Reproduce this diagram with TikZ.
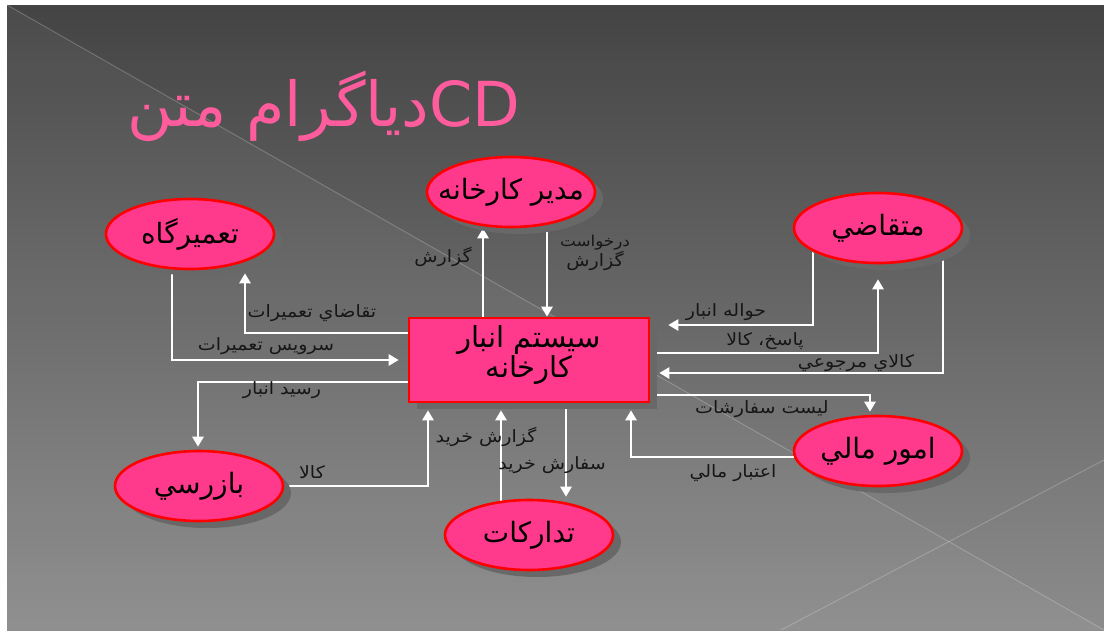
\documentclass[tikz,border=0pt]{standalone}
\usepackage{fontspec}
\newfontfamily\arabicfont[Script=Arabic]{DejaVu Sans}
\newfontfamily\labelfont[Script=Arabic,FakeStretch=1.12]{DejaVu Sans}
\TeXXeTstate=1
\usetikzlibrary{shapes.geometric,shadows,arrows.meta}
\newcommand{\artxt}[1]{{\arabicfont\beginR #1\endR}}
\newcommand{\flowtxt}[1]{{\labelfont\beginR #1\endR}}
% entity names: zero-width box so the ellipse keeps its fixed size
\newcommand{\enttext}[1]{\makebox[0pt]{\raisebox{5pt}{\artxt{#1}}}}
\pgfdeclarelayer{back}
\pgfdeclarelayer{edges}
\pgfsetlayers{back,edges,main}
\definecolor{entpink}{RGB}{255,58,140}
\definecolor{titlepink}{RGB}{255,92,158}
\definecolor{shadowgray}{RGB}{104,104,104}
\definecolor{labelink}{RGB}{22,22,22}
\definecolor{slidetop}{RGB}{68,68,68}
\definecolor{slidebottom}{RGB}{140,140,140}
\tikzset{
  ent/.style={ellipse, draw=red, line width=2.6pt, fill=entpink,
    minimum width=168pt, minimum height=70pt, inner sep=0pt,
    font=\fontsize{28}{32}\selectfont, text=black,
    drop shadow={shadow xshift=8pt, shadow yshift=-7pt, fill=shadowgray, opacity=1}},
  sysbox/.style={rectangle, draw=red, line width=2.6pt, fill=entpink,
    minimum width=240pt, minimum height=84pt, inner sep=0pt,
    drop shadow={shadow xshift=8pt, shadow yshift=-7pt, fill=shadowgray, opacity=1}},
  boxtext/.style={align=center, font=\fontsize{29}{26}\selectfont, text=black},
  flow/.style={draw=white, line width=2.8pt, -{Triangle[length=10pt,width=11pt]}},
  lbl/.style={font=\fontsize{17}{20}\selectfont, text=labelink, inner sep=0pt, align=center},
  facet/.style={white, opacity=0.22, line width=0.9pt}
}
\begin{document}
\begin{tikzpicture}[x=1pt, y=-1pt]
\useasboundingbox (0,0) rectangle (1104,630);

% slide background
\begin{pgfonlayer}{back}
  \fill[white] (0,0) rectangle (1104,630);
  \shade[top color=slidetop, bottom color=slidebottom] (7,5) rectangle (1104,630);
  \fill[white, opacity=0.04] (7,5) -- (1104,630) -- (7,630) -- cycle;
  \draw[facet] (7,5) -- (1104,630);
  \draw[facet] (1104,460) -- (781,630);
\end{pgfonlayer}

% title
\node[text=titlepink, font=\fontsize{62}{70}\selectfont] (title) at (324,106)
  {{\arabicfont\beginR\beginL CD\endL دياگرام متن\endR}};

% entities
\node[sysbox] (box) at (529,360) {};
\node[boxtext] (boxlbl) at (529,355) {\artxt{سيستم انبار}\\\artxt{كارخانه}};
\node[ent] (mgr)  at (511,192) {\enttext{مدير كارخانه}};
\node[ent] (rep)  at (190,234) {\enttext{تعميرگاه}};
\node[ent] (cust) at (878,228) {\enttext{متقاضي}};
\node[ent] (insp) at (199,486) {\enttext{بازرسي}};
\node[ent] (proc) at (529,535) {\enttext{تداركات}};
\node[ent] (fin)  at (878,451) {\enttext{امور مالي}};

% data flows
\begin{pgfonlayer}{edges}
  \draw[flow] ([xshift=-46pt]box.center) -- ([xshift=-28pt]mgr.south);
  \draw[flow] ([xshift=36pt]mgr.center) -- ([xshift=18pt]box.north);
  \draw[flow] ([yshift=27pt]box.center) -| ([xshift=55pt,yshift=-3pt]rep.south);
  \draw[flow] ([xshift=-18pt]rep.center) |- ([xshift=-9pt]box.west);
  \draw[flow] ([yshift=-22pt]box.center) -| ([xshift=-1pt,yshift=3pt]insp.north);
  \draw[flow] (insp.center) -| ([xshift=-101pt,yshift=-7pt]box.south);
  \draw[flow] ([xshift=-28pt]proc.center) -- ([xshift=-28pt,yshift=-7pt]box.south);
  \draw[flow] ([xshift=37pt]box.center) -- ([xshift=37pt,yshift=2pt]proc.north);
  \draw[flow] ([yshift=-35pt]box.center) -| ([xshift=-8pt,yshift=3pt]fin.north);
  \draw[flow] ([yshift=-6pt]fin.center) -| ([xshift=102pt,yshift=-7pt]box.south);
  \draw[flow] ([xshift=-65pt]cust.center) |- ([xshift=18pt,yshift=35pt]box.east);
  \draw[flow] ([yshift=7pt]box.center) -| ([yshift=-15pt]cust.south);
  \draw[flow] ([xshift=65pt]cust.center) |- ([xshift=9pt,yshift=-13pt]box.east);
\end{pgfonlayer}

% flow labels
\node[lbl] (l1)  at (443,257) {\flowtxt{گزارش}};
\node[lbl] (l2)  at (595,253) {{\fontsize{15}{17}\selectfont\flowtxt{درخواست}}\\\flowtxt{گزارش}};
\node[lbl] (l3)  at (312,313) {\flowtxt{تقاضاي تعميرات}};
\node[lbl] (l4)  at (266,346) {\flowtxt{سرويس تعميرات}};
\node[lbl] (l5)  at (282,390) {\flowtxt{رسيد انبار}};
\node[lbl] (l6)  at (312,472) {\flowtxt{كالا}};
\node[lbl] (l7)  at (486,437) {\flowtxt{گزارش خريد}};
\node[lbl] (l8)  at (552,465) {\flowtxt{سفارش خريد}};
\node[lbl] (l9)  at (762,409) {\flowtxt{ليست سفارشات}};
\node[lbl] (l10) at (733,473) {\flowtxt{اعتبار مالي}};
\node[lbl] (l11) at (726,312) {\flowtxt{حواله انبار}};
\node[lbl] (l12) at (765,341) {\flowtxt{پاسخ، كالا}};
\node[lbl] (l13) at (856,363) {\flowtxt{كالاي مرجوعي}};
\end{tikzpicture}
\end{document}
